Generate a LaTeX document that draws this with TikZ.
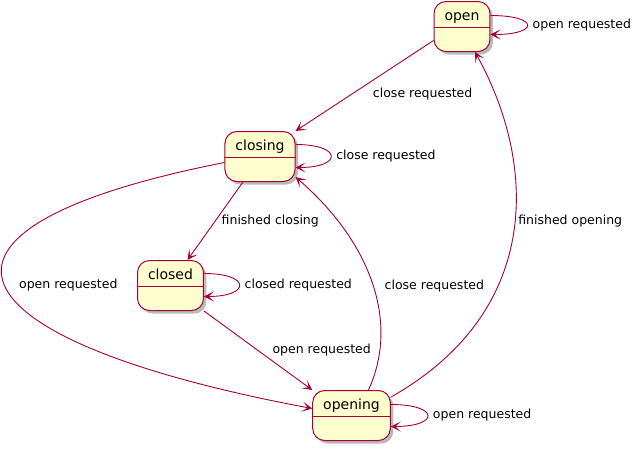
\documentclass[tikz,border=0pt]{standalone}
\usepackage{fontspec}
\setmainfont{DejaVu Sans}
\usepackage{xcolor}
\usepackage{tikz}
\usetikzlibrary{arrows.meta,shadows}
\definecolor{linec}{HTML}{A80036}
\definecolor{statebg}{HTML}{FEFECE}
\tikzset{
  ar/.style={-{Stealth[length=10pt,width=10pt,inset=5.5pt]},line width=0.9pt,linec},
  state/.style={draw=linec,line width=1pt,fill=statebg,rounded corners=12pt,inner xsep=10.5pt,inner ysep=6pt,
    text height=13pt,text depth=25pt,font=\fontsize{14}{17}\selectfont,
    drop shadow={shadow xshift=3pt,shadow yshift=-3pt,fill=black!45,opacity=.6}},
  lbl/.style={font=\fontsize{12.5}{15}\selectfont,inner sep=2pt,text=black}
}
\begin{document}
\begin{tikzpicture}[x=1pt,y=-1pt]
\useasboundingbox (0,0) rectangle (640,450);
\node[state,anchor=north] (open) at (462,1) {open};
\node[state,anchor=north] (closing) at (260,131) {closing};
\node[state,anchor=north] (closed) at (170.5,260) {closed};
\node[state,anchor=north] (opening) at (351.5,390) {opening};
\foreach \s in {open,closing,closed,opening}
  \draw[linec,line width=1pt] ([yshift=-26pt]\s.north west) -- ([yshift=-26pt]\s.north east);
\draw[ar] ([yshift=-14pt]open.west) -- node[lbl,pos=.5,anchor=north west,xshift=6pt]{close requested} (closing.north east);
\draw[ar] ([xshift=-17pt]closing.south) -- node[lbl,pos=.5,anchor=west,xshift=4pt]{finished closing} ([xshift=17pt]closed.north);
\draw[ar] (closed.south east) -- node[lbl,pos=.5,anchor=west,xshift=12pt]{open requested} (opening.north west);
\draw[ar] ([yshift=-6pt]closing.west) .. controls +(-340,67) and +(-363,-68) .. node[lbl,pos=.5,anchor=west,xshift=12pt]{open requested} ([yshift=7pt]opening.west);
\draw[ar] ([xshift=17pt]opening.north) .. controls +(32,-70) and +(73,63) .. node[lbl,pos=.475,anchor=west,xshift=9pt]{close requested} (closing.-30);
\draw[ar] (opening.25) .. controls +(155,-88) and +(60,108) .. node[lbl,pos=.53,anchor=west,xshift=1pt]{finished opening} ([xshift=13pt]open.south);
\draw[ar] ([yshift=11pt]open.east) .. controls +(49,0) and +(49,0) .. node[lbl,right=3pt]{open requested} ([yshift=-8pt]open.east);
\draw[ar] ([yshift=12pt]closing.east) .. controls +(47,0) and +(47,0) .. node[lbl,right=3pt]{close requested} ([yshift=-11pt]closing.east);
\draw[ar] ([yshift=12pt]closed.east) .. controls +(47,0) and +(47,0) .. node[lbl,right=3pt]{closed requested} ([yshift=-11pt]closed.east);
\draw[ar] ([yshift=11pt]opening.east) .. controls +(49,0) and +(49,0) .. node[lbl,right=3pt]{open requested} ([yshift=-11pt]opening.east);
\end{tikzpicture}
\end{document}
